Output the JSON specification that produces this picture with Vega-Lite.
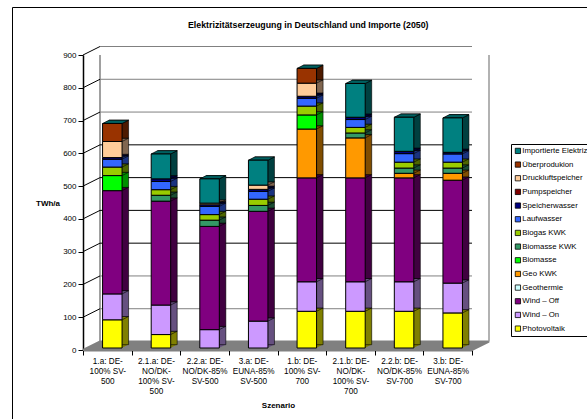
{
  "$schema": "https://vega.github.io/schema/vega-lite/v6.json",
  "width": 389,
  "height": 295,
  "padding": {"left": 83, "top": 55, "right": 115, "bottom": 69},
  "autosize": "none",
  "background": "white",
  "config": {"font": "Liberation Sans", "view": {"stroke": null}},
  "title": {
    "text": "Elektrizitätserzeugung in Deutschland und Importe (2050)",
    "fontSize": 8.8, "fontWeight": "bold", "color": "#000000",
    "anchor": "start", "frame": "group", "dx": 105, "offset": -23
  },
  "datasets": {
    "energy": [
      {"scenario": "1.a: DE-\n100% SV-\n500", "source": "Photovoltaik", "rank": 1, "value": 86},
      {"scenario": "1.a: DE-\n100% SV-\n500", "source": "Wind – On", "rank": 2, "value": 79},
      {"scenario": "1.a: DE-\n100% SV-\n500", "source": "Wind – Off", "rank": 3, "value": 315},
      {"scenario": "1.a: DE-\n100% SV-\n500", "source": "Biomasse", "rank": 6, "value": 46},
      {"scenario": "1.a: DE-\n100% SV-\n500", "source": "Biogas KWK", "rank": 8, "value": 26},
      {"scenario": "1.a: DE-\n100% SV-\n500", "source": "Laufwasser", "rank": 9, "value": 24},
      {"scenario": "1.a: DE-\n100% SV-\n500", "source": "Speicherwasser", "rank": 10, "value": 5},
      {"scenario": "1.a: DE-\n100% SV-\n500", "source": "Druckluftspeicher", "rank": 12, "value": 49},
      {"scenario": "1.a: DE-\n100% SV-\n500", "source": "Überprodukion", "rank": 13, "value": 55},

      {"scenario": "2.1.a: DE-\nNO/DK-\n100% SV-\n500", "source": "Photovoltaik", "rank": 1, "value": 41},
      {"scenario": "2.1.a: DE-\nNO/DK-\n100% SV-\n500", "source": "Wind – On", "rank": 2, "value": 90},
      {"scenario": "2.1.a: DE-\nNO/DK-\n100% SV-\n500", "source": "Wind – Off", "rank": 3, "value": 317},
      {"scenario": "2.1.a: DE-\nNO/DK-\n100% SV-\n500", "source": "Biomasse KWK", "rank": 7, "value": 18},
      {"scenario": "2.1.a: DE-\nNO/DK-\n100% SV-\n500", "source": "Biogas KWK", "rank": 8, "value": 17},
      {"scenario": "2.1.a: DE-\nNO/DK-\n100% SV-\n500", "source": "Laufwasser", "rank": 9, "value": 25},
      {"scenario": "2.1.a: DE-\nNO/DK-\n100% SV-\n500", "source": "Speicherwasser", "rank": 10, "value": 8},
      {"scenario": "2.1.a: DE-\nNO/DK-\n100% SV-\n500", "source": "Importierte Elektrizität", "rank": 14, "value": 76},

      {"scenario": "2.2.a: DE-\nNO/DK-85%\nSV-500", "source": "Wind – On", "rank": 2, "value": 56},
      {"scenario": "2.2.a: DE-\nNO/DK-85%\nSV-500", "source": "Wind – Off", "rank": 3, "value": 315},
      {"scenario": "2.2.a: DE-\nNO/DK-85%\nSV-500", "source": "Biomasse KWK", "rank": 7, "value": 19},
      {"scenario": "2.2.a: DE-\nNO/DK-85%\nSV-500", "source": "Biogas KWK", "rank": 8, "value": 17},
      {"scenario": "2.2.a: DE-\nNO/DK-85%\nSV-500", "source": "Laufwasser", "rank": 9, "value": 25},
      {"scenario": "2.2.a: DE-\nNO/DK-85%\nSV-500", "source": "Speicherwasser", "rank": 10, "value": 5},
      {"scenario": "2.2.a: DE-\nNO/DK-85%\nSV-500", "source": "Druckluftspeicher", "rank": 12, "value": 5},
      {"scenario": "2.2.a: DE-\nNO/DK-85%\nSV-500", "source": "Importierte Elektrizität", "rank": 14, "value": 74},

      {"scenario": "3.a: DE-\nEUNA-85%\nSV-500", "source": "Wind – On", "rank": 2, "value": 82},
      {"scenario": "3.a: DE-\nEUNA-85%\nSV-500", "source": "Wind – Off", "rank": 3, "value": 335},
      {"scenario": "3.a: DE-\nEUNA-85%\nSV-500", "source": "Biomasse KWK", "rank": 7, "value": 18},
      {"scenario": "3.a: DE-\nEUNA-85%\nSV-500", "source": "Biogas KWK", "rank": 8, "value": 19},
      {"scenario": "3.a: DE-\nEUNA-85%\nSV-500", "source": "Laufwasser", "rank": 9, "value": 24},
      {"scenario": "3.a: DE-\nEUNA-85%\nSV-500", "source": "Speicherwasser", "rank": 10, "value": 6},
      {"scenario": "3.a: DE-\nEUNA-85%\nSV-500", "source": "Druckluftspeicher", "rank": 12, "value": 13},
      {"scenario": "3.a: DE-\nEUNA-85%\nSV-500", "source": "Importierte Elektrizität", "rank": 14, "value": 76},

      {"scenario": "1.b: DE-\n100% SV-\n700", "source": "Photovoltaik", "rank": 1, "value": 112},
      {"scenario": "1.b: DE-\n100% SV-\n700", "source": "Wind – On", "rank": 2, "value": 90},
      {"scenario": "1.b: DE-\n100% SV-\n700", "source": "Wind – Off", "rank": 3, "value": 317},
      {"scenario": "1.b: DE-\n100% SV-\n700", "source": "Geo KWK", "rank": 5, "value": 149},
      {"scenario": "1.b: DE-\n100% SV-\n700", "source": "Biomasse", "rank": 6, "value": 43},
      {"scenario": "1.b: DE-\n100% SV-\n700", "source": "Biogas KWK", "rank": 8, "value": 27},
      {"scenario": "1.b: DE-\n100% SV-\n700", "source": "Laufwasser", "rank": 9, "value": 24},
      {"scenario": "1.b: DE-\n100% SV-\n700", "source": "Speicherwasser", "rank": 10, "value": 6},
      {"scenario": "1.b: DE-\n100% SV-\n700", "source": "Druckluftspeicher", "rank": 12, "value": 40},
      {"scenario": "1.b: DE-\n100% SV-\n700", "source": "Überprodukion", "rank": 13, "value": 45},

      {"scenario": "2.1.b: DE-\nNO/DK-\n100% SV-\n700", "source": "Photovoltaik", "rank": 1, "value": 112},
      {"scenario": "2.1.b: DE-\nNO/DK-\n100% SV-\n700", "source": "Wind – On", "rank": 2, "value": 90},
      {"scenario": "2.1.b: DE-\nNO/DK-\n100% SV-\n700", "source": "Wind – Off", "rank": 3, "value": 317},
      {"scenario": "2.1.b: DE-\nNO/DK-\n100% SV-\n700", "source": "Geo KWK", "rank": 5, "value": 122},
      {"scenario": "2.1.b: DE-\nNO/DK-\n100% SV-\n700", "source": "Biomasse KWK", "rank": 7, "value": 15},
      {"scenario": "2.1.b: DE-\nNO/DK-\n100% SV-\n700", "source": "Biogas KWK", "rank": 8, "value": 17},
      {"scenario": "2.1.b: DE-\nNO/DK-\n100% SV-\n700", "source": "Laufwasser", "rank": 9, "value": 24},
      {"scenario": "2.1.b: DE-\nNO/DK-\n100% SV-\n700", "source": "Speicherwasser", "rank": 10, "value": 7},
      {"scenario": "2.1.b: DE-\nNO/DK-\n100% SV-\n700", "source": "Importierte Elektrizität", "rank": 14, "value": 103},

      {"scenario": "2.2.b: DE-\nNO/DK-85%\nSV-700", "source": "Photovoltaik", "rank": 1, "value": 112},
      {"scenario": "2.2.b: DE-\nNO/DK-85%\nSV-700", "source": "Wind – On", "rank": 2, "value": 90},
      {"scenario": "2.2.b: DE-\nNO/DK-85%\nSV-700", "source": "Wind – Off", "rank": 3, "value": 317},
      {"scenario": "2.2.b: DE-\nNO/DK-85%\nSV-700", "source": "Geo KWK", "rank": 5, "value": 14},
      {"scenario": "2.2.b: DE-\nNO/DK-85%\nSV-700", "source": "Biomasse KWK", "rank": 7, "value": 16},
      {"scenario": "2.2.b: DE-\nNO/DK-85%\nSV-700", "source": "Biogas KWK", "rank": 8, "value": 18},
      {"scenario": "2.2.b: DE-\nNO/DK-85%\nSV-700", "source": "Laufwasser", "rank": 9, "value": 26},
      {"scenario": "2.2.b: DE-\nNO/DK-85%\nSV-700", "source": "Speicherwasser", "rank": 10, "value": 7},
      {"scenario": "2.2.b: DE-\nNO/DK-85%\nSV-700", "source": "Importierte Elektrizität", "rank": 14, "value": 104},

      {"scenario": "3.b: DE-\nEUNA-85%\nSV-700", "source": "Photovoltaik", "rank": 1, "value": 107},
      {"scenario": "3.b: DE-\nEUNA-85%\nSV-700", "source": "Wind – On", "rank": 2, "value": 91},
      {"scenario": "3.b: DE-\nEUNA-85%\nSV-700", "source": "Wind – Off", "rank": 3, "value": 314},
      {"scenario": "3.b: DE-\nEUNA-85%\nSV-700", "source": "Geo KWK", "rank": 5, "value": 21},
      {"scenario": "3.b: DE-\nEUNA-85%\nSV-700", "source": "Biomasse KWK", "rank": 7, "value": 16},
      {"scenario": "3.b: DE-\nEUNA-85%\nSV-700", "source": "Biogas KWK", "rank": 8, "value": 18},
      {"scenario": "3.b: DE-\nEUNA-85%\nSV-700", "source": "Laufwasser", "rank": 9, "value": 25},
      {"scenario": "3.b: DE-\nEUNA-85%\nSV-700", "source": "Speicherwasser", "rank": 10, "value": 5},
      {"scenario": "3.b: DE-\nEUNA-85%\nSV-700", "source": "Importierte Elektrizität", "rank": 14, "value": 105}
    ],
    "levels": [
      {"level": 0}, {"level": 100}, {"level": 200}, {"level": 300}, {"level": 400},
      {"level": 500}, {"level": 600}, {"level": 700}, {"level": 800}, {"level": 900}
    ]
  },
  "data": {"name": "energy"},
  "transform": [
    {"stack": "value", "groupby": ["scenario"], "sort": [{"field": "rank", "order": "ascending"}], "as": ["base", "top"]}
  ],
  "encoding": {
    "x": {
      "field": "scenario", "type": "nominal", "sort": null,
      "scale": {"paddingInner": 0, "paddingOuter": 0},
      "axis": {
        "title": "Szenario", "titleFontSize": 8, "titleFontWeight": "bold", "titleColor": "#000000",
        "titleX": 195, "titleY": 55, "titleBaseline": "middle",
        "labelAngle": 0, "labelFontSize": 8.2, "labelColor": "#000000", "labelLineHeight": 10.3,
        "labelExpr": "split(datum.label, '\\n')", "labelPadding": 2, "labelLimit": 0,
        "tickBand": "extent", "tickSize": 5, "tickColor": "#000000", "domainColor": "#000000",
        "domainWidth": 1.5, "tickWidth": 1, "grid": false
      }
    },
    "y": {
      "field": "top", "type": "quantitative",
      "scale": {"domain": [0, 900], "nice": false},
      "axis": {
        "title": "TWh/a", "titleFontSize": 8, "titleFontWeight": "bold", "titleColor": "#000000",
        "titleAngle": 0, "titleX": -35.5, "titleY": 148, "titleBaseline": "middle", "titleAlign": "center",
        "values": [0, 100, 200, 300, 400, 500, 600, 700, 800, 900],
        "labelFontSize": 8, "labelColor": "#000000", "labelPadding": 2,
        "tickSize": 5, "tickColor": "#000000", "domainColor": "#000000", "domainWidth": 1.5, "grid": false
      }
    },
    "y2": {"field": "base"}
  },
  "layer": [
    {
      "data": {"name": "levels"},
      "transform": [{"filter": "datum.level === 900"}],
      "mark": {"type": "rule", "stroke": "#000000", "strokeWidth": 1},
      "encoding": {"x": {"value": -70.5}, "y": {"value": -47.5}, "y2": {"value": 364}}
    },
    {
      "data": {"name": "levels"},
      "transform": [{"filter": "datum.level === 900"}],
      "mark": {"type": "rule", "stroke": "#000000", "strokeWidth": 1},
      "encoding": {"x": {"value": -70.5}, "x2": {"value": 504}, "y": {"value": -47.5}, "y2": null}
    },
    {
      "data": {"name": "levels"},
      "transform": [{"filter": "datum.level === 0"}],
      "mark": {"type": "point", "shape": "M0,0L389,0L406,-8.5L17,-8.5Z", "size": 4, "filled": true, "fill": "#808080", "stroke": "#808080", "opacity": 1},
      "encoding": {"x": {"value": 0}, "y": {"field": "level", "type": "quantitative"}, "y2": null}
    },
    {
      "data": {"name": "levels"},
      "transform": [{"filter": "datum.level === 0"}],
      "mark": {"type": "rule", "stroke": "#808080", "strokeWidth": 1.5, "xOffset": 17, "yOffset": -8.5},
      "encoding": {"x": {"value": 0}, "y": {"field": "level", "type": "quantitative"}, "y2": {"datum": 900}}
    },
    {
      "data": {"name": "levels"},
      "transform": [{"filter": "datum.level === 0"}],
      "mark": {"type": "rule", "stroke": "#999999", "strokeWidth": 1.5, "xOffset": 406, "yOffset": -8.5},
      "encoding": {"x": {"value": 0}, "y": {"field": "level", "type": "quantitative"}, "y2": {"datum": 900}}
    },
    {
      "data": {"name": "levels"},
      "transform": [{"filter": "datum.level > 0 && (datum.level < 300 || datum.level > 600)"}],
      "mark": {"type": "rule", "stroke": "#808080", "strokeWidth": 1, "xOffset": 17, "yOffset": -8.5},
      "encoding": {"x": {"value": 0}, "x2": {"value": 389}, "y": {"field": "level", "type": "quantitative"}, "y2": null}
    },
    {
      "data": {"name": "levels"},
      "transform": [{"filter": "datum.level >= 300 && datum.level <= 600"}],
      "mark": {"type": "rule", "stroke": "#000000", "strokeWidth": 1, "xOffset": 17, "yOffset": -8.5},
      "encoding": {"x": {"value": 0}, "x2": {"value": 389}, "y": {"field": "level", "type": "quantitative"}, "y2": null}
    },
    {
      "data": {"name": "levels"},
      "transform": [{"filter": "datum.level > 0"}],
      "mark": {"type": "point", "shape": "M0,0L17,-8.5", "size": 4, "filled": false, "stroke": "#000000", "strokeWidth": 1, "opacity": 1},
      "encoding": {"x": {"value": 0}, "y": {"field": "level", "type": "quantitative"}, "y2": null}
    },
    {
      "mark": {"type": "bar", "width": 19.5, "xOffset": 6, "yOffset": -2.5, "y2Offset": -2.5},
      "encoding": {"fill": {"field": "source", "type": "nominal", "legend": null, "scale": {"domain": ["Photovoltaik", "Wind – On", "Wind – Off", "Geothermie", "Geo KWK", "Biomasse", "Biomasse KWK", "Biogas KWK", "Laufwasser", "Speicherwasser", "Pumpspeicher", "Druckluftspeicher", "Überprodukion", "Importierte Elektrizität"], "range": ["#808000", "#665080", "#400040", "#668080", "#804D00", "#009000", "#1A4D33", "#4D6600", "#1A3380", "#000040", "#400000", "#806650", "#4D1A00", "#004040"]}}}
    },
    {
      "mark": {"type": "bar", "width": 19.5, "xOffset": 7, "yOffset": -3, "y2Offset": -3},
      "encoding": {"fill": {"field": "source", "type": "nominal", "legend": null}}
    },
    {
      "mark": {"type": "bar", "width": 19.5, "xOffset": 8, "yOffset": -3.5, "y2Offset": -3.5},
      "encoding": {"fill": {"field": "source", "type": "nominal", "legend": null}}
    },
    {
      "mark": {"type": "bar", "width": 19.5, "xOffset": 9, "yOffset": -4, "y2Offset": -4},
      "encoding": {"fill": {"field": "source", "type": "nominal", "legend": null}}
    },
    {
      "mark": {"type": "bar", "width": 19.5, "xOffset": 10, "yOffset": -4.5, "y2Offset": -4.5},
      "encoding": {"fill": {"field": "source", "type": "nominal", "legend": null}}
    },
    {
      "mark": {"type": "bar", "width": 19.5, "xOffset": 11, "yOffset": -5, "y2Offset": -5},
      "encoding": {"fill": {"field": "source", "type": "nominal", "legend": null}}
    },
    {
      "mark": {"type": "bar", "width": 19.5, "xOffset": 11.5, "yOffset": -5.3, "y2Offset": -5.3, "stroke": "#000000", "strokeWidth": 0.6},
      "encoding": {"fill": {"field": "source", "type": "nominal", "legend": null}}
    },
    {
      "mark": {"type": "point", "shape": "M0,0L6.5,-3.3", "size": 4, "filled": false, "stroke": "#000000", "strokeWidth": 0.6, "opacity": 1, "xOffset": 14.75, "yOffset": -2},
      "encoding": {"y2": null}
    },
    {
      "transform": [{"aggregate": [{"op": "max", "field": "top", "as": "total"}], "groupby": ["scenario"]}],
      "mark": {"type": "point", "shape": "M-9.75,0L9.75,0L16.25,-3.3L-3.25,-3.3Z", "size": 4, "filled": true, "fill": "#006060", "stroke": "#000000", "strokeWidth": 0.7, "opacity": 1, "xOffset": 5, "yOffset": -2},
      "encoding": {"y": {"field": "total", "type": "quantitative"}, "y2": null}
    },
    {
      "mark": {"type": "bar", "width": 19.5, "xOffset": 5, "yOffset": -2, "y2Offset": -2, "stroke": "#000000", "strokeWidth": 1},
      "encoding": {
        "color": {
          "field": "source", "type": "nominal",
          "scale": {"domain": ["Importierte Elektrizität", "Überprodukion", "Druckluftspeicher", "Pumpspeicher", "Speicherwasser", "Laufwasser", "Biogas KWK", "Biomasse KWK", "Biomasse", "Geo KWK", "Geothermie", "Wind – Off", "Wind – On", "Photovoltaik"], "range": ["#008080", "#993300", "#FFCC99", "#800000", "#000080", "#3366FF", "#99CC00", "#339966", "#00FF00", "#FF9900", "#CCFFFF", "#800080", "#CC99FF", "#FFFF00"]},
          "legend": {
            "title": null, "orient": "none", "legendX": 428, "legendY": 89,
            "symbolType": "square", "symbolSize": 28, "symbolStrokeColor": "#000000", "symbolStrokeWidth": 0.8,
            "labelFontSize": 7.8, "labelColor": "#000000", "labelLimit": 200, "labelOffset": 0.5,
            "rowPadding": 3.67, "padding": 3, "strokeColor": "#000000", "fillColor": "#FFFFFF"
          }
        }
      }
    }
  ]
}
